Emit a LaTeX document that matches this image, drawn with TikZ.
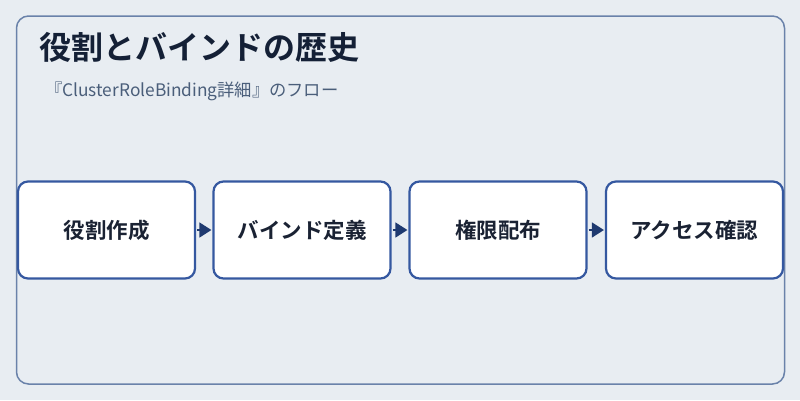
\documentclass[tikz,border=0pt]{standalone}
\usepackage{fontspec}
\setmainfont{Noto Sans CJK JP}
\newfontfamily\jpbold{Noto Sans CJK JP Bold}
\usetikzlibrary{arrows.meta}
\definecolor{bgc}{HTML}{E8EDF2}
\definecolor{framec}{HTML}{6A82AA}
\definecolor{boxc}{HTML}{3558A0}
\definecolor{arrc}{HTML}{1F3A70}
\definecolor{titc}{HTML}{142036}
\definecolor{subc}{HTML}{4A5E7A}
\definecolor{txtc}{HTML}{1A2233}
\tikzset{
  stepbox/.style={draw=boxc, line width=2.2pt, fill=white, rounded corners=10pt,
    minimum width=177pt, minimum height=97pt, inner sep=0pt,
    font=\jpbold\fontsize{21.5pt}{24pt}\selectfont, text=txtc},
  flowarrow/.style={draw=arrc, line width=1.5pt, -{Triangle[length=12pt,width=15pt]}, shorten <=1pt, shorten >=1pt}
}
\begin{document}
\begin{tikzpicture}[x=1pt,y=-1pt]
\useasboundingbox (0,0) rectangle (800,400);
\fill[bgc] (0,0) rectangle (800,400);
\node[draw=framec, line width=1.5pt, rounded corners=12pt, minimum width=768pt, minimum height=368pt, inner sep=0pt] (frame) at (400.5,200) {};
\node[anchor=base west, font=\jpbold\fontsize{32pt}{36pt}\selectfont, text=titc, inner sep=0pt] (title) at (39,59) {役割とバインドの歴史};
\node[anchor=base west, font=\fontsize{17.3pt}{20pt}\selectfont, text=subc, inner sep=0pt] (sub) at (45,96) {『ClusterRoleBinding詳細』のフロー};
\node[stepbox] (b1) at (106.5,230) {役割作成};
\node[stepbox] (b2) at (302,230) {バインド定義};
\node[stepbox] (b3) at (498,230) {権限配布};
\node[stepbox] (b4) at (694.5,230) {アクセス確認};
\draw[flowarrow] (b1.east) -- (b2.west);
\draw[flowarrow] (b2.east) -- (b3.west);
\draw[flowarrow] (b3.east) -- (b4.west);
\end{tikzpicture}
\end{document}
